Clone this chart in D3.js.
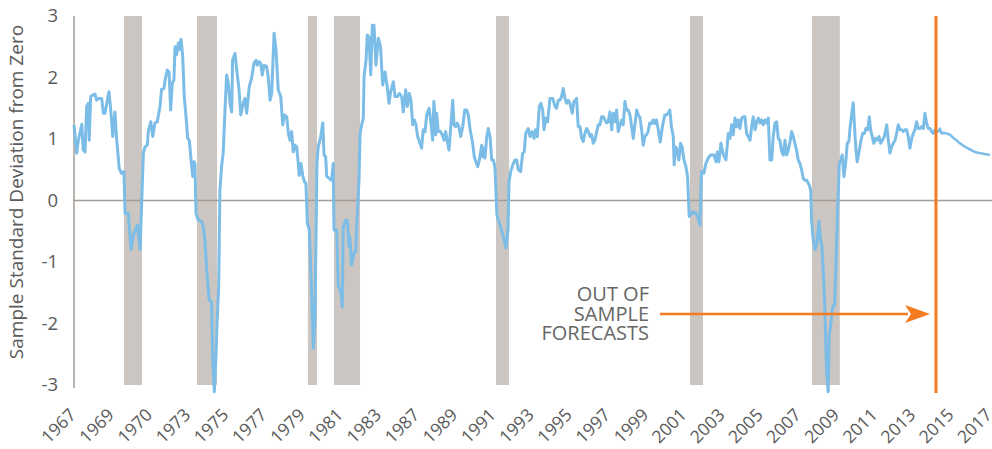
<!DOCTYPE html>
<html><head><meta charset="utf-8">
<script src="https://cdn.jsdelivr.net/npm/d3@7"></script>
<style>
html,body{margin:0;padding:0;background:#fff;}
svg{display:block;font-family:"Open Sans",sans-serif;}
</style></head>
<body><svg id="chart" width="992" height="449"></svg>
<script>
// ---- data ----
const xLabels = ["1967","1969","1970","1973","1975","1977","1979","1981","1983","1987","1989","1991","1993","1995","1997","1999","2001","2003","2005","2007","2009","2011","2013","2015","2017"];
const yTicks = [3,2,1,0,-1,-2,-3];
const recessionStart = [1969.92,1973.95,1980.08,1981.52,1990.47,2001.18,2007.92];
const recessionEnd   = [1970.92,1975.06,1980.58,1982.96,1991.19,2001.90,2009.46];
const forecastStart = 2014.77;
const history = [
[1967.16,1.23],[1967.31,0.77],[1967.40,0.98],[1967.59,1.24],[1967.67,0.82],[1967.77,0.79],[1967.86,1.53],[1967.95,1.58],[1968.00,0.98],[1968.08,1.69],
[1968.23,1.72],[1968.32,1.73],[1968.41,1.63],[1968.50,1.66],[1968.69,1.66],[1968.78,1.42],[1968.87,1.42],[1968.97,1.58],[1969.09,1.77],[1969.19,1.47],
[1969.30,1.04],[1969.42,1.44],[1969.52,0.98],[1969.66,0.52],[1969.79,0.44],[1969.92,0.47],[1969.98,-0.21],[1970.16,-0.21],[1970.31,-0.80],[1970.44,-0.56],
[1970.66,-0.40],[1970.81,-0.80],[1970.99,0.77],[1971.08,0.87],[1971.21,0.90],[1971.26,1.12],[1971.40,1.28],[1971.51,1.04],[1971.63,1.26],[1971.76,1.28],
[1971.91,1.53],[1972.00,1.81],[1972.13,1.82],[1972.19,1.96],[1972.31,2.12],[1972.41,2.09],[1972.50,1.47],[1972.59,1.91],[1972.68,1.96],[1972.74,2.50],
[1972.83,2.37],[1972.92,2.56],[1972.97,2.45],[1973.07,2.62],[1973.16,2.37],[1973.25,1.69],[1973.35,1.36],[1973.44,1.01],[1973.53,0.98],[1973.61,0.71],
[1973.72,0.39],[1973.79,0.63],[1973.84,0.60],[1973.90,-0.21],[1974.03,-0.32],[1974.21,-0.34],[1974.30,-0.43],[1974.39,-0.64],[1974.49,-1.13],[1974.63,-1.62],
[1974.76,-1.65],[1974.82,-2.59],[1974.91,-3.11],[1975.00,-2.54],[1975.07,-1.94],[1975.15,-1.40],[1975.22,0.17],[1975.32,0.58],[1975.40,0.77],[1975.50,1.47],
[1975.59,2.04],[1975.68,1.91],[1975.78,1.58],[1975.87,1.44],[1975.92,2.28],[1976.05,2.39],[1976.15,2.12],[1976.27,1.82],[1976.37,1.39],[1976.51,1.58],
[1976.60,1.66],[1976.70,1.42],[1976.84,1.85],[1976.97,1.99],[1977.10,2.23],[1977.21,2.28],[1977.28,2.20],[1977.38,2.26],[1977.47,2.23],[1977.56,2.04],
[1977.65,2.20],[1977.80,2.18],[1977.89,2.01],[1977.99,1.63],[1978.08,1.74],[1978.21,2.72],[1978.32,2.45],[1978.44,1.80],[1978.58,1.69],[1978.69,1.23],
[1978.78,1.39],[1978.91,1.36],[1979.00,1.09],[1979.09,0.98],[1979.18,1.12],[1979.27,0.79],[1979.37,0.90],[1979.46,0.87],[1979.55,0.60],[1979.60,0.41],
[1979.70,0.60],[1979.79,0.41],[1979.88,0.31],[1979.97,0.28],[1980.05,-0.37],[1980.16,-0.48],[1980.29,-1.56],[1980.38,-2.40],[1980.47,-1.94],[1980.52,-0.75],
[1980.58,0.60],[1980.65,0.87],[1980.79,1.04],[1980.90,1.26],[1980.97,0.74],[1981.06,0.71],[1981.12,0.39],[1981.26,0.36],[1981.39,0.33],[1981.48,0.60],
[1981.52,-0.48],[1981.67,-0.48],[1981.76,-1.40],[1981.89,-1.46],[1981.98,-1.73],[1982.03,-0.43],[1982.17,-0.32],[1982.26,-0.32],[1982.35,-0.75],[1982.40,-0.59],
[1982.49,-1.05],[1982.62,-0.86],[1982.72,-0.83],[1982.80,-0.26],[1982.90,0.33],[1982.96,1.09],[1983.05,1.23],[1983.14,1.34],[1983.18,2.01],[1983.29,2.28],
[1983.36,2.69],[1983.45,2.66],[1983.55,2.04],[1983.64,2.85],[1983.73,2.85],[1983.84,2.20],[1983.97,2.64],[1984.09,2.50],[1984.21,1.88],[1984.34,2.09],
[1984.46,1.85],[1984.56,1.58],[1984.65,1.77],[1984.80,1.93],[1984.89,1.69],[1985.02,1.69],[1985.13,1.74],[1985.26,1.69],[1985.35,1.44],[1985.48,1.80],
[1985.57,1.53],[1985.68,1.74],[1985.77,1.63],[1985.87,1.23],[1985.96,1.31],[1986.05,1.23],[1986.14,1.04],[1986.27,0.93],[1986.36,0.85],[1986.45,1.15],
[1986.55,1.12],[1986.64,1.39],[1986.77,1.50],[1986.88,1.26],[1986.97,0.98],[1987.04,1.61],[1987.14,1.07],[1987.19,1.42],[1987.28,1.12],[1987.41,1.12],
[1987.50,1.07],[1987.60,0.98],[1987.69,1.12],[1987.78,0.96],[1987.87,0.82],[1987.97,1.20],[1988.08,1.63],[1988.15,1.23],[1988.24,1.20],[1988.33,1.26],
[1988.42,1.20],[1988.52,1.04],[1988.63,1.20],[1988.74,1.47],[1988.85,1.47],[1988.94,1.39],[1989.03,1.17],[1989.18,0.93],[1989.27,0.71],[1989.36,0.63],
[1989.46,0.55],[1989.55,0.66],[1989.68,0.90],[1989.73,0.71],[1989.81,0.85],[1989.86,0.69],[1989.95,1.01],[1990.04,1.17],[1990.14,1.04],[1990.23,0.66],
[1990.32,0.66],[1990.41,0.55],[1990.52,-0.24],[1990.69,-0.40],[1990.85,-0.56],[1991.02,-0.77],[1991.13,-0.48],[1991.19,0.31],[1991.28,0.47],[1991.39,0.58],
[1991.52,0.66],[1991.61,0.66],[1991.70,0.50],[1991.83,0.47],[1991.94,0.77],[1992.03,0.79],[1992.11,1.09],[1992.25,1.17],[1992.35,1.04],[1992.47,1.12],
[1992.57,1.01],[1992.66,1.15],[1992.75,1.04],[1992.86,1.53],[1992.95,1.58],[1993.05,1.47],[1993.12,1.15],[1993.23,1.34],[1993.32,1.28],[1993.45,1.66],
[1993.60,1.66],[1993.73,1.53],[1993.82,1.50],[1993.91,1.63],[1994.00,1.63],[1994.09,1.69],[1994.18,1.82],[1994.28,1.66],[1994.37,1.58],[1994.46,1.63],
[1994.55,1.58],[1994.68,1.42],[1994.77,1.61],[1994.87,1.63],[1994.92,1.66],[1995.01,1.20],[1995.11,1.20],[1995.20,1.01],[1995.29,0.96],[1995.38,1.09],
[1995.47,1.17],[1995.57,1.12],[1995.66,1.04],[1995.75,1.07],[1995.84,0.93],[1995.93,0.98],[1996.03,1.12],[1996.12,1.23],[1996.21,1.23],[1996.30,1.36],
[1996.39,1.36],[1996.49,1.31],[1996.58,1.26],[1996.67,1.28],[1996.76,1.44],[1996.86,1.15],[1996.95,1.42],[1997.04,1.28],[1997.13,1.47],[1997.22,1.12],
[1997.32,1.23],[1997.41,1.31],[1997.50,1.23],[1997.59,1.61],[1997.68,1.47],[1997.77,1.47],[1997.87,1.39],[1997.96,1.20],[1998.05,1.01],[1998.14,1.23],
[1998.24,1.47],[1998.33,1.39],[1998.42,1.35],[1998.51,1.16],[1998.60,0.90],[1998.69,1.04],[1998.78,1.07],[1998.87,1.12],[1998.96,1.26],[1999.06,1.25],
[1999.15,1.31],[1999.24,1.25],[1999.33,1.31],[1999.42,1.17],[1999.54,0.95],[1999.66,1.20],[1999.79,1.39],[1999.88,1.39],[1999.98,1.42],[2000.07,1.47],
[2000.16,1.20],[2000.26,1.04],[2000.31,0.58],[2000.39,0.87],[2000.48,0.82],[2000.57,0.66],[2000.66,0.93],[2000.75,0.87],[2000.85,0.66],[2000.96,0.55],
[2001.05,0.39],[2001.14,-0.26],[2001.27,-0.21],[2001.36,-0.18],[2001.45,-0.21],[2001.54,-0.21],[2001.64,-0.29],[2001.73,-0.40],[2001.82,0.47],[2001.95,0.44],
[2002.06,0.60],[2002.19,0.69],[2002.32,0.74],[2002.43,0.74],[2002.51,0.74],[2002.62,0.63],[2002.69,0.79],[2002.78,0.63],[2002.89,0.93],[2002.99,0.79],
[2003.08,0.71],[2003.17,0.66],[2003.30,1.09],[2003.39,1.01],[2003.48,1.23],[2003.57,1.07],[2003.67,1.34],[2003.76,1.20],[2003.85,1.31],[2003.94,1.17],
[2004.04,1.34],[2004.13,1.36],[2004.22,1.36],[2004.31,1.09],[2004.40,1.04],[2004.50,0.98],[2004.59,1.20],[2004.68,1.36],[2004.78,1.15],[2004.87,1.28],
[2004.96,1.34],[2005.05,1.26],[2005.14,1.31],[2005.23,1.23],[2005.33,1.31],[2005.42,1.26],[2005.51,1.34],[2005.60,0.66],[2005.70,0.66],[2005.78,1.04],
[2005.88,1.26],[2005.97,1.28],[2006.06,1.01],[2006.15,0.98],[2006.25,0.79],[2006.34,0.74],[2006.43,0.98],[2006.52,0.74],[2006.61,0.82],[2006.71,0.96],
[2006.80,1.12],[2006.89,1.04],[2006.98,0.93],[2007.07,0.82],[2007.16,0.66],[2007.26,0.60],[2007.35,0.50],[2007.44,0.36],[2007.53,0.33],[2007.63,0.33],
[2007.77,0.25],[2007.85,0.17],[2007.90,-0.32],[2007.99,-0.64],[2008.09,-0.80],[2008.18,-0.72],[2008.31,-0.34],[2008.40,-0.64],[2008.47,-0.75],[2008.55,-1.18],
[2008.64,-1.83],[2008.73,-2.81],[2008.82,-3.11],[2008.88,-2.16],[2008.95,-2.05],[2009.06,-1.73],[2009.17,-1.70],[2009.25,-1.02],[2009.32,-0.32],[2009.43,0.60],
[2009.52,0.66],[2009.59,0.74],[2009.69,0.39],[2009.78,0.60],[2009.87,0.93],[2009.96,0.96],[2010.02,1.17],[2010.11,1.39],[2010.20,1.59],[2010.26,1.26],
[2010.35,0.82],[2010.42,0.63],[2010.52,0.79],[2010.63,0.98],[2010.72,1.09],[2010.81,1.09],[2010.90,1.17],[2011.00,1.15],[2011.09,1.36],[2011.16,1.15],
[2011.25,1.04],[2011.34,0.93],[2011.44,1.01],[2011.53,0.98],[2011.62,1.04],[2011.72,0.93],[2011.81,0.98],[2011.92,1.04],[2012.05,1.23],[2012.14,0.98],
[2012.23,0.77],[2012.32,0.87],[2012.41,0.93],[2012.51,0.98],[2012.60,1.09],[2012.69,1.23],[2012.78,1.15],[2012.88,1.15],[2012.97,1.12],[2013.06,1.15],
[2013.15,1.15],[2013.24,1.04],[2013.33,0.85],[2013.43,1.01],[2013.52,1.09],[2013.61,1.15],[2013.70,1.28],[2013.79,1.17],[2013.88,1.17],[2013.98,1.20],
[2014.07,1.17],[2014.16,1.42],[2014.25,1.26],[2014.35,1.17],[2014.44,1.17],[2014.53,1.12],[2014.62,1.09],[2014.71,1.15],[2014.80,1.12]
];
const forecast = [
[2014.80,1.12],[2014.89,1.12],[2014.99,1.17],[2015.08,1.09],[2015.17,1.10],[2015.35,1.09],[2015.54,1.07],[2015.72,1.02],[2015.91,0.98],[2016.09,0.93],
[2016.28,0.89],[2016.46,0.86],[2016.65,0.83],[2016.84,0.80],[2017.02,0.78],[2017.20,0.77],[2017.39,0.76],[2017.57,0.75],[2017.75,0.74]
];
const annotationLines = ["OUT OF","SAMPLE","FORECASTS"];
const yTitle = "Sample Standard Deviation from Zero";

// ---- chart ----
const svg = d3.select("#chart");
const pLeft = 74, pRight = 991, pTop = 16, pBottom = 385;
const x = d3.scaleLinear().domain([1967.16, 2017.81]).range([pLeft, pRight]);
const y = d3.scaleLinear().domain([-3, 3]).range([pBottom, pTop]);
const xLab = d3.scalePoint().domain(xLabels).range([77, 993]);

// recession bars
svg.append("g").selectAll("rect").data(recessionStart).join("rect")
  .attr("x", (d) => x(d))
  .attr("width", (d, i) => x(recessionEnd[i]) - x(d))
  .attr("y", y(3)).attr("height", y(-3) - y(3))
  .attr("fill", "#CBC6C2");

// y axis line and zero line
svg.append("line").attr("x1", pLeft).attr("x2", pLeft).attr("y1", y(3)).attr("y2", y(-3) + 3)
  .attr("stroke", "#A59C96").attr("stroke-width", 1.5);
svg.append("line").attr("x1", pLeft).attr("x2", 992).attr("y1", y(0)).attr("y2", y(0))
  .attr("stroke", "#A59C96").attr("stroke-width", 1.5);

// y tick labels
svg.append("g").selectAll("text").data(yTicks).join("text")
  .attr("x", 58).attr("y", (d) => y(d)).attr("dy", "0.35em")
  .attr("text-anchor", "end").attr("font-size", 18.5).attr("fill", "#5a5a5a")
  .text((d) => d);

// y title
svg.append("text").attr("transform", `translate(23,${(pTop + 368) / 2}) rotate(-90)`)
  .attr("text-anchor", "middle").attr("font-size", 19).attr("fill", "#5a5a5a")
  .text(yTitle);

// x labels
svg.append("g").selectAll("text").data(xLabels).join("text")
  .attr("transform", (d) => `translate(${xLab(d)},${416}) rotate(-45)`)
  .attr("text-anchor", "end").attr("font-size", 17.5).attr("fill", "#5a5a5a")
  .text((d) => d);

// lines
const line = d3.line().x((d) => x(d[0])).y((d) => y(d[1]));
svg.append("path").datum(history).attr("d", line)
  .attr("fill", "none").attr("stroke", "#7BBDE7").attr("stroke-width", 3).attr("stroke-linejoin", "round");
svg.append("path").datum(forecast).attr("d", line)
  .attr("fill", "none").attr("stroke", "#7BBDE7").attr("stroke-width", 2.5).attr("stroke-linejoin", "round");

// forecast vertical line
svg.append("line").attr("x1", x(forecastStart)).attr("x2", x(forecastStart))
  .attr("y1", y(3)).attr("y2", 393).attr("stroke", "#F47B20").attr("stroke-width", 3);

// annotation (one text block with three lines)
const ann = svg.append("g");
ann.append("text").attr("text-anchor", "end").attr("font-size", 20).attr("fill", "#666")
  .selectAll("tspan").data(annotationLines).join("tspan")
  .attr("x", 649).attr("y", (d, i) => 301 + i * 19.5)
  .text((d) => d);
const ay = 314;
ann.append("line").attr("x1", 660).attr("x2", 908).attr("y1", ay).attr("y2", ay)
  .attr("stroke", "#F47B20").attr("stroke-width", 2.5);
ann.append("path").attr("d", `M905,${ay - 9}L930,${ay}L905,${ay + 9}L911,${ay}Z`).attr("fill", "#F47B20");
</script></body></html>
